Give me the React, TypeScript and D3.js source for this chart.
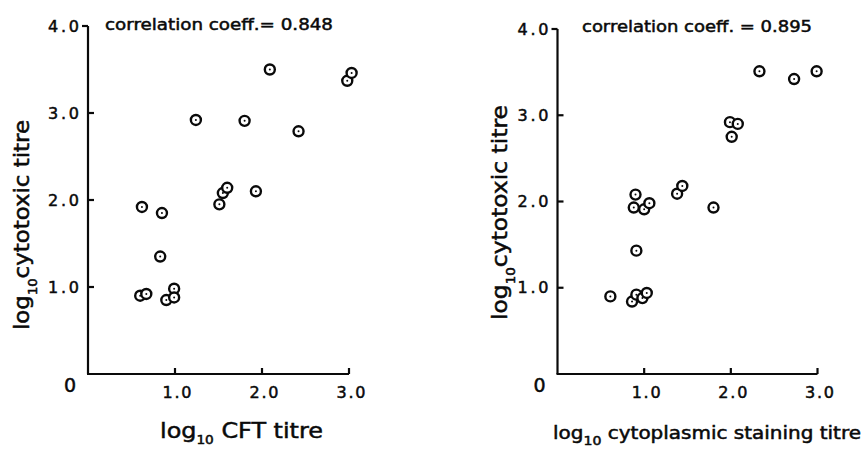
import React from 'react';
import * as d3 from 'd3';

// log10 CFT titre vs log10 cytotoxic titre
const cftX = [0.62, 0.85, 0.83, 0.60, 0.67, 0.90, 0.99, 0.99, 1.24, 1.51, 1.55, 1.60, 1.80, 1.93, 2.09, 2.42, 2.98, 3.03];
const cftY = [1.92, 1.85, 1.35, 0.90, 0.92, 0.85, 0.98, 0.88, 2.92, 1.95, 2.08, 2.14, 2.91, 2.10, 3.50, 2.79, 3.37, 3.46];

// log10 cytoplasmic staining titre vs log10 cytotoxic titre
const cytoX = [0.61, 0.86, 0.91, 0.98, 1.03, 0.91, 0.90, 0.88, 1.00, 1.06, 1.38, 1.44, 1.80, 1.99, 2.08, 2.01, 2.33, 2.73, 2.99];
const cytoY = [0.90, 0.84, 0.92, 0.88, 0.94, 1.43, 2.08, 1.93, 1.91, 1.98, 2.09, 2.18, 1.93, 2.92, 2.90, 2.75, 3.51, 3.42, 3.51];

const xTicks = [1, 2, 3];
const yTicks = [1, 2, 3, 4];
const titles = ['correlation coeff.= 0.848', 'correlation coeff. = 0.895'];
const xLabels = ['CFT titre', 'cytoplasmic staining titre'];
const yLabel = 'cytotoxic titre';

const FONT = '"DejaVu Sans", sans-serif';
const INK = '#0a0a0a';
const fmt = d3.format('.1f');

type PanelProps = {
  xs: number[];
  ys: number[];
  x0: number;
  x3: number;
  yTop: number;
  title: string;
  titleX: number;
  titleW: number;
  titleY: number;
  xLabel: string;
  xLabX: number;
  xLabW: number;
  xLabY: number;
  xLabSize: number;
  yLabX: number;
  yLabBottom: number;
  yLabW: number;
};

const Panel = (p: PanelProps) => {
  const x = d3.scaleLinear().domain([0, 3]).range([p.x0, p.x3]);
  const y = d3.scaleLinear().domain([0, 4]).range([374, p.yTop]);
  const pts = p.xs.map((v, i) => [v, p.ys[i]]);

  return (
    <g fontFamily={FONT} fill={INK} stroke={INK} strokeWidth={0.5}>
      {/* axes */}
      <line x1={x(0)} x2={x(0)} y1={y(0)} y2={y(4)} strokeWidth={2.2} />
      <line x1={x(0) - 1} x2={x(3)} y1={y(0)} y2={y(0)} strokeWidth={2.2} />
      {yTicks.map(t => (
        <g key={'y' + t}>
          <line
            x1={t === 4 ? x(0) - 6 : x(0)}
            x2={t === 4 ? x(0) : x(0) + 6}
            y1={y(t)} y2={y(t)} strokeWidth={2.2} />
          <text x={x(0) - 9} y={y(t)} textAnchor="end" dominantBaseline="central"
            fontSize={16} textLength={31} lengthAdjust="spacing">{fmt(t)}</text>
        </g>
      ))}
      {xTicks.map(t => (
        <g key={'x' + t}>
          <line x1={x(t)} x2={x(t)} y1={y(0)} y2={y(0) - 6} strokeWidth={2.2} />
          <text x={x(t) + 2} y={398} textAnchor="middle" fontSize={16}
            textLength={29} lengthAdjust="spacing">{fmt(t)}</text>
        </g>
      ))}
      <text x={x(0) - 18} y={385} textAnchor="middle" dominantBaseline="central" fontSize={19}>0</text>

      {/* points */}
      {pts.map(([a, b], i) => (
        <g key={i}>
          <circle cx={x(a)} cy={y(b)} r={5} fill="white" strokeWidth={2.4} />
          <circle cx={x(a)} cy={y(b)} r={1} stroke="none" />
        </g>
      ))}

      <text x={p.titleX} y={p.titleY} fontSize={16} textLength={p.titleW} lengthAdjust="spacingAndGlyphs">{p.title}</text>

      <text x={p.xLabX} y={p.xLabY} fontSize={p.xLabSize} textLength={p.xLabW} lengthAdjust="spacingAndGlyphs">
        log<tspan fontSize={12} dy={6}>10</tspan><tspan dy={-6}> {p.xLabel}</tspan>
      </text>

      <text transform={`translate(${p.yLabX},${p.yLabBottom}) rotate(-90)`} fontSize={21}
        textLength={p.yLabW} lengthAdjust="spacingAndGlyphs">
        log<tspan fontSize={12} dy={8}>10</tspan><tspan dy={-8}>{yLabel}</tspan>
      </text>
    </g>
  );
};

export default function App() {
  return (
    <svg width={868} height={451} style={{ position: 'absolute', left: 0, top: 0, background: 'white' }}>
      <rect width={868} height={451} fill="white" />
      <Panel xs={cftX} ys={cftY} x0={88} x3={349} yTop={26}
        title={titles[0]} titleX={105} titleW={228} titleY={30}
        xLabel={xLabels[0]} xLabX={160} xLabW={163} xLabY={438} xLabSize={21}
        yLabX={29} yLabBottom={330} yLabW={210} />
      <Panel xs={cytoX} ys={cytoY} x0={557.5} x3={817.5} yTop={29}
        title={titles[1]} titleX={582} titleW={230} titleY={32}
        xLabel={xLabels[1]} xLabX={553} xLabW={308} xLabY={439} xLabSize={17}
        yLabX={507} yLabBottom={320} yLabW={215} />
    </svg>
  );
}
